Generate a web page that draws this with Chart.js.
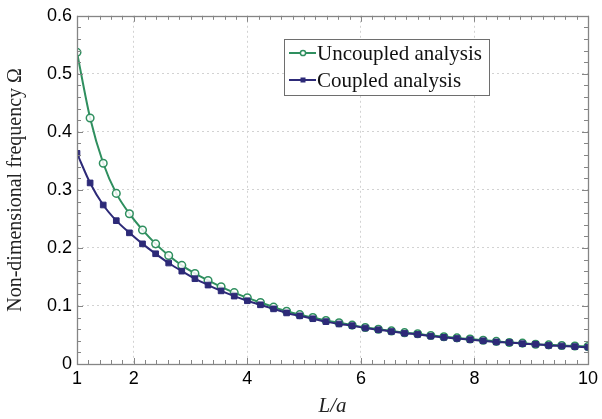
<!DOCTYPE html>
<html>
<head>
<meta charset="utf-8">
<script src="https://cdn.jsdelivr.net/npm/chart.js@4.4.1/dist/chart.umd.min.js"></script>
<style>
  html, body { margin: 0; padding: 0; background: #ffffff; }
  #wrap { width: 602px; height: 419px; position: relative; }
</style>
</head>
<body>
<div id="wrap"><canvas id="c" width="602" height="419"></canvas></div>
<script>
// L/a sample points
const ratioLa = [
  1.000, 1.231, 1.462, 1.692, 1.923, 2.154, 2.385, 2.615, 2.846, 3.077,
  3.308, 3.538, 3.769, 4.000, 4.231, 4.462, 4.692, 4.923, 5.154, 5.385,
  5.615, 5.846, 6.077, 6.308, 6.538, 6.769, 7.000, 7.231, 7.462, 7.692,
  7.923, 8.154, 8.385, 8.615, 8.846, 9.077, 9.308, 9.538, 9.769, 10.000
];
// Non-dimensional frequency, uncoupled analysis
const omegaUncoupled = [
  0.537, 0.424, 0.346, 0.294, 0.259, 0.231, 0.207, 0.187, 0.170, 0.156,
  0.144, 0.133, 0.123, 0.114, 0.106, 0.098, 0.091, 0.085, 0.080, 0.075,
  0.071, 0.067, 0.063, 0.060, 0.057, 0.054, 0.052, 0.049, 0.047, 0.045,
  0.043, 0.041, 0.039, 0.037, 0.036, 0.034, 0.033, 0.032, 0.031, 0.030
];
// Non-dimensional frequency, coupled analysis
const omegaCoupled = [
  0.363, 0.312, 0.274, 0.247, 0.226, 0.207, 0.190, 0.174, 0.160, 0.147,
  0.136, 0.126, 0.117, 0.109, 0.102, 0.095, 0.088, 0.083, 0.078, 0.073,
  0.069, 0.066, 0.062, 0.059, 0.056, 0.053, 0.051, 0.048, 0.046, 0.044,
  0.042, 0.040, 0.038, 0.037, 0.035, 0.034, 0.032, 0.031, 0.030, 0.029
];
const xTickValues = [1, 2, 4, 6, 8, 10];
const seriesNames = ['Uncoupled analysis', 'Coupled analysis'];

const GREEN = '#2f8f5f';
const NAVY = '#2d2a78';
const FRAME = '#858585';

const toPoints = (xs, ys) => xs.map((x, i) => ({ x: x, y: ys[i] }));

// Inward tick marks on all four sides plus the plot frame
const frameTicks = {
  id: 'frameTicks',
  afterDatasetsDraw(chart) {
    const { ctx, chartArea: a, scales: { x, y } } = chart;
    ctx.save();
    ctx.strokeStyle = FRAME;
    ctx.lineWidth = 1;
    ctx.beginPath();
    for (let i = 0; i <= 45; i++) {
      const v = 1 + i * 0.2;
      const px = Math.round(x.getPixelForValue(v)) + 0.5;
      const major = xTickValues.some(t => Math.abs(t - v) < 1e-6);
      const len = major ? 6 : 4;
      ctx.moveTo(px, a.bottom); ctx.lineTo(px, a.bottom - len);
      ctx.moveTo(px, a.top); ctx.lineTo(px, a.top + len);
    }
    for (let i = 0; i <= 30; i++) {
      const v = i * 0.02;
      const py = Math.round(y.getPixelForValue(v)) + 0.5;
      const len = (i % 5 === 0) ? 6 : 4;
      ctx.moveTo(a.left, py); ctx.lineTo(a.left + len, py);
      ctx.moveTo(a.right, py); ctx.lineTo(a.right - len, py);
    }
    ctx.stroke();
    ctx.lineWidth = 1.3;
    ctx.strokeRect(Math.round(a.left) + 0.5, Math.round(a.top) + 0.5,
                   Math.round(a.right - a.left), Math.round(a.bottom - a.top));
    ctx.restore();
  }
};

// Boxed legend inside the plot area
const boxLegend = {
  id: 'boxLegend',
  afterDraw(chart) {
    const { ctx } = chart;
    const bx = 284, by = 39, bw = 205, bh = 56;
    ctx.save();
    ctx.fillStyle = '#ffffff';
    ctx.fillRect(bx, by, bw, bh);
    ctx.strokeStyle = '#6e6e6e';
    ctx.lineWidth = 1;
    ctx.strokeRect(bx + 0.5, by + 0.5, bw, bh);
    const rows = [
      { y: by + 14, color: GREEN, shape: 'circle' },
      { y: by + 41, color: NAVY, shape: 'square' }
    ];
    ctx.font = '21px "Liberation Serif", "DejaVu Serif", serif';
    ctx.textBaseline = 'middle';
    rows.forEach((r, i) => {
      ctx.strokeStyle = r.color;
      ctx.lineWidth = 2;
      ctx.beginPath();
      ctx.moveTo(bx + 5, r.y); ctx.lineTo(bx + 32, r.y);
      ctx.stroke();
      const cx = bx + 19;
      if (r.shape === 'circle') {
        ctx.fillStyle = '#ffffff';
        ctx.lineWidth = 1.5;
        ctx.beginPath(); ctx.arc(cx, r.y, 2.6, 0, Math.PI * 2); ctx.fill(); ctx.stroke();
      } else {
        ctx.fillStyle = r.color;
        ctx.fillRect(cx - 2.5, r.y - 2.5, 5, 5);
      }
      ctx.fillStyle = '#111111';
      ctx.fillText(seriesNames[i], bx + 33, r.y + 1);
    });
    ctx.restore();
  }
};

new Chart(document.getElementById('c'), {
  type: 'line',
  data: {
    datasets: [
      {
        label: seriesNames[0],
        data: toPoints(ratioLa, omegaUncoupled),
        borderColor: GREEN,
        backgroundColor: '#ffffff',
        borderWidth: 2,
        pointStyle: 'circle',
        pointRadius: 3.8,
        pointBorderWidth: 1.5,
        pointBorderColor: GREEN,
        pointBackgroundColor: 'rgba(255,255,255,0.85)',
        cubicInterpolationMode: 'monotone',
        order: 2
      },
      {
        label: seriesNames[1],
        data: toPoints(ratioLa, omegaCoupled),
        borderColor: NAVY,
        backgroundColor: NAVY,
        borderWidth: 2,
        pointStyle: 'rect',
        pointRadius: 4,
        pointBorderWidth: 1,
        pointBorderColor: NAVY,
        pointBackgroundColor: NAVY,
        cubicInterpolationMode: 'monotone',
        order: 1
      }
    ]
  },
  options: {
    responsive: false,
    animation: false,
    devicePixelRatio: 1,
    layout: { padding: { left: 0, right: 12, top: 11, bottom: 0 } },
    plugins: {
      legend: { display: false },
      tooltip: { enabled: false }
    },
    scales: {
      x: {
        type: 'linear',
        min: 1,
        max: 10,
        afterBuildTicks: (s) => { s.ticks = xTickValues.map(v => ({ value: v })); },
        afterFit: (s) => { s.height = 55; },
        grid: {
          color: (c) => (c.tick && (c.tick.value === 1 || c.tick.value === 10)) ? 'rgba(0,0,0,0)' : '#d2d2d2',
          lineWidth: 1,
          drawTicks: false
        },
        border: { display: false, dash: [2, 3] },
        ticks: {
          color: '#000000',
          font: { family: '"Liberation Sans", Arial, sans-serif', size: 18 },
          padding: 4,
          maxRotation: 0,
          autoSkip: false,
          callback: (v) => String(v)
        },
        title: {
          display: true,
          text: 'L/a',
          color: '#222222',
          font: { family: '"Liberation Serif", "DejaVu Serif", serif', size: 21, style: 'italic' },
          padding: { top: 0, bottom: 0 }
        }
      },
      y: {
        type: 'linear',
        min: 0,
        max: 0.6,
        afterFit: (s) => { s.width = 77; },
        grid: {
          color: (c) => (c.tick && (c.tick.value === 0 || Math.abs(c.tick.value - 0.6) < 1e-9)) ? 'rgba(0,0,0,0)' : '#d2d2d2',
          lineWidth: 1,
          drawTicks: false
        },
        border: { display: false, dash: [2, 3] },
        ticks: {
          stepSize: 0.1,
          color: '#000000',
          font: { family: '"Liberation Sans", Arial, sans-serif', size: 18 },
          padding: 5,
          callback: (v) => (Math.abs(v) < 1e-9 ? '0' : v.toFixed(1))
        },
        title: {
          display: true,
          text: 'Non-dimensional frequency Ω',
          color: '#222222',
          font: { family: '"Liberation Serif", "DejaVu Serif", serif', size: 20 },
          padding: { top: 4, bottom: 0 }
        }
      }
    }
  },
  plugins: [frameTicks, boxLegend]
});
</script>
</body>
</html>
